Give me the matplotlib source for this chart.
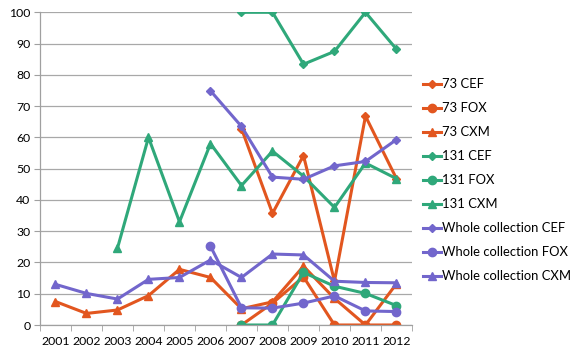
import numpy as np
import matplotlib
matplotlib.use("Agg")
import matplotlib.pyplot as plt

nan = np.nan

years = ["2001", "2002", "2003", "2004", "2005", "2006",
         "2007", "2008", "2009", "2010", "2011", "2012"]

# resistance percentages per year (nan = no data that year)
st73_cef = [nan, nan, nan, nan, nan, nan, 62.8, 35.7, 54.2, 14.0, 66.8, 46.8]
st73_fox = [nan, nan, nan, nan, nan, nan, 0, 7.0, 15.4, 0, 0, 0]
st73_cxm = [7.5, 3.7, 4.8, 9.4, 17.8, 15.2, 5.2, 7.4, 18.8, 8.5, 0, 13.2]
st131_cef = [nan, nan, nan, nan, nan, nan, 100, 100, 83.4, 87.5, 100, 88.2]
st131_fox = [nan, nan, nan, nan, nan, nan, 0, 0, 16.8, 12.4, 10.1, 6.2]
st131_cxm = [nan, nan, 24.6, 60.0, 33.0, 58.0, 44.6, 55.6, 47.6, 37.6, 51.8, 46.8]
whole_cef = [nan, nan, nan, nan, nan, 74.9, 63.5, 47.3, 46.6, 50.9, 52.3, 59.3]
whole_fox = [nan, nan, nan, nan, nan, 25.2, 5.5, 5.4, 7.0, 9.3, 4.5, 4.3]
whole_cxm = [13.0, 10.1, 8.3, 14.6, 15.2, 20.8, 15.2, 22.7, 22.4, 14.0, 13.6, 13.5]

orange = "#E2561F"
green = "#2FA87A"
purple = "#7266CC"

series = [
    ("73 CEF", st73_cef, orange, "D"),
    ("73 FOX", st73_fox, orange, "o"),
    ("73 CXM", st73_cxm, orange, "^"),
    ("131 CEF", st131_cef, green, "D"),
    ("131 FOX", st131_fox, green, "o"),
    ("131 CXM", st131_cxm, green, "^"),
    ("Whole collection CEF", whole_cef, purple, "D"),
    ("Whole collection FOX", whole_fox, purple, "o"),
    ("Whole collection CXM", whole_cxm, purple, "^"),
]

plt.rcParams["font.family"] = ["Lato", "DejaVu Sans"]

fig = plt.figure(figsize=(5.73, 3.52), dpi=100)
ax = fig.add_axes([0.0698, 0.0767, 0.6492, 0.8883])

x = np.arange(len(years))
marker_sizes = {"D": 4.2, "o": 6.0, "^": 5.6}
for label, vals, color, mk in series:
    ax.plot(x, vals, color=color, lw=2.2, marker=mk, ms=marker_sizes[mk],
            label=label, solid_joinstyle="round")

ax.set_xlim(-0.5, len(years) - 0.5)
ax.set_ylim(0, 100)
ax.set_yticks(np.arange(0, 101, 10))
ax.set_xticks(x)
ax.set_xticklabels(years)
# category boundary ticks like a spreadsheet chart
ax.set_xticks(np.arange(-0.5, len(years)), minor=True)
ax.tick_params(axis="x", which="major", length=0, pad=8, labelsize=8.8)
ax.tick_params(axis="x", which="minor", length=4, color="#A0A0A0", direction="out")
ax.tick_params(axis="y", length=4, color="#A0A0A0", labelsize=8.8, pad=3)

ax.grid(axis="y", color="#A8A8A8", lw=0.9)
ax.set_axisbelow(True)
for side in ("top", "right"):
    ax.spines[side].set_visible(False)
for side in ("left", "bottom"):
    ax.spines[side].set_color("#A0A0A0")
    ax.spines[side].set_linewidth(0.9)

fig.legend(loc="upper left", bbox_to_anchor=(0.738, 0.778), frameon=False,
           fontsize=9.4, handlelength=1.4, handletextpad=0.1,
           labelspacing=0.92, borderpad=0, borderaxespad=0)

fig.savefig("out.png", dpi=100)
